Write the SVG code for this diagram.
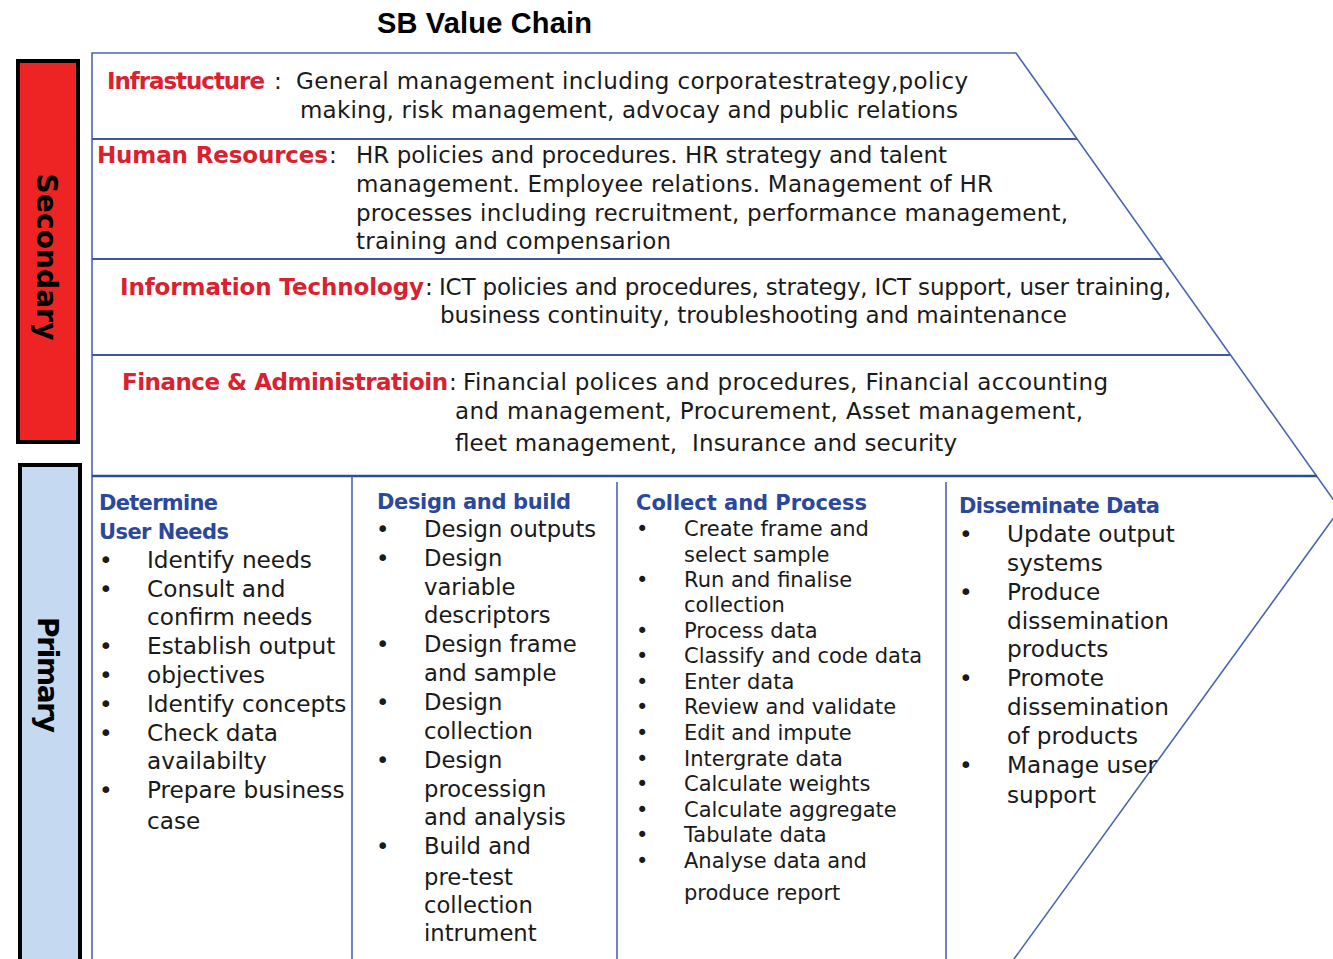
<svg xmlns="http://www.w3.org/2000/svg" width="1333" height="959" viewBox="0 0 1333 959">
<style>
.frame{fill:none;stroke:#4a66b0;stroke-width:1.6}
.sep{stroke:#3d57a3;stroke-width:1.8}
.sepb{stroke:#2f4a9c;stroke-width:2.6}
.title{font-family:"Liberation Sans",Arial,sans-serif;font-weight:bold;font-size:29px;fill:#000}
.side{font-family:"DejaVu Sans",sans-serif;font-weight:bold;font-size:28px;fill:#000}
.red{font-family:"DejaVu Sans",sans-serif;font-weight:bold;font-size:23px;fill:#d9212f}
.body{font-family:"DejaVu Sans",sans-serif;font-size:23px;fill:#1a1a1a}
.hdr{font-family:"DejaVu Sans",sans-serif;font-weight:bold;font-size:21px;fill:#2b489a}
.col{font-family:"DejaVu Sans",sans-serif;font-size:23.2px;fill:#1a1a1a}
.col2{font-family:"DejaVu Sans",sans-serif;font-size:22.7px;fill:#1a1a1a}
.col3{font-family:"DejaVu Sans",sans-serif;font-size:21px;fill:#1a1a1a}
</style>
<rect width="1333" height="959" fill="#fff"/>

<g id="title"><text class="title" x="377" y="33" textLength="215">SB Value Chain</text></g>

<g id="secondary-label">
<rect x="18" y="61" width="60" height="381" fill="#ee2424" stroke="#000" stroke-width="4"/>
<text class="side" transform="translate(47,257) rotate(90)" x="0" y="10" text-anchor="middle" textLength="167">Secondary</text>
</g>
<g id="primary-label">
<rect x="20" y="465" width="60" height="500" fill="#c5d9f0" stroke="#000" stroke-width="4"/>
<text class="side" transform="translate(48,675) rotate(90)" x="0" y="10" text-anchor="middle" textLength="116">Primary</text>
</g>

<g id="connectors">
<path class="frame" d="M92,959 V53 H1016 L1340,509 L1014,959"/>
<line class="sep" x1="92" y1="139" x2="1077" y2="139"/>
<line class="sep" x1="92" y1="259" x2="1162" y2="259"/>
<line class="sep" x1="92" y1="355" x2="1230" y2="355"/>
<line class="sepb" x1="92" y1="476" x2="1317" y2="476"/>
<line class="frame" x1="352" y1="476" x2="352" y2="959"/>
<line class="frame" x1="617" y1="482" x2="617" y2="959"/>
<line class="frame" x1="946" y1="482" x2="946" y2="959"/>
</g>

<g id="infrastructure">
<text class="red" x="107" y="89" textLength="158">Infrastucture</text>
<text class="body" x="274" y="89">:</text>
<text class="body" x="296" y="89" textLength="672">General management including corporatestrategy,policy</text>
<text class="body" x="300" y="118" textLength="658">making, risk management, advocay and public relations</text>
</g>

<g id="human-resources">
<text class="red" x="97" y="163" textLength="231">Human Resources</text>
<text class="body" x="329" y="163">:</text>
<text class="body" x="356" y="163" textLength="591">HR policies and procedures. HR strategy and talent</text>
<text class="body" x="356" y="192" textLength="637">management. Employee relations. Management of HR</text>
<text class="body" x="356" y="221" textLength="712">processes including recruitment, performance management,</text>
<text class="body" x="356" y="249" textLength="315">training and compensarion</text>
</g>

<g id="information-technology">
<text class="red" x="120" y="295" textLength="304">Information Technology</text>
<text class="body" x="425" y="295">:</text>
<text class="body" x="439" y="295" textLength="732">ICT policies and procedures, strategy, ICT support, user training,</text>
<text class="body" x="440" y="323" textLength="627">business continuity, troubleshooting and maintenance</text>
</g>

<g id="finance-administration">
<text class="red" x="122" y="390" textLength="326">Finance &amp; Administratioin</text>
<text class="body" x="449" y="390">:</text>
<text class="body" x="463" y="390" textLength="645">Financial polices and procedures, Financial accounting</text>
<text class="body" x="455" y="419" textLength="628">and management, Procurement, Asset management,</text>
<text class="body" x="455" y="451" textLength="502" style="white-space:pre">fleet management,  Insurance and security</text>
</g>

<g id="determine-user-needs">
<text class="hdr" x="99" y="510" textLength="119">Determine</text>
<text class="hdr" x="99" y="539" textLength="130">User Needs</text>
<g class="col">
<text x="99" y="568">•</text><text x="147" y="568">Identify needs</text>
<text x="99" y="597">•</text><text x="147" y="597">Consult and</text>
<text x="147" y="625">confirm needs</text>
<text x="99" y="654">•</text><text x="147" y="654">Establish output</text>
<text x="99" y="683">•</text><text x="147" y="683">objectives</text>
<text x="99" y="712">•</text><text x="147" y="712">Identify concepts</text>
<text x="99" y="741">•</text><text x="147" y="741">Check data</text>
<text x="147" y="769">availabilty</text>
<text x="99" y="798">•</text><text x="147" y="798">Prepare business</text>
<text x="147" y="829">case</text>
</g>
</g>

<g id="design-and-build">
<text class="hdr" x="377" y="509" textLength="194">Design and build</text>
<g class="col2">
<text x="376" y="537">•</text><text x="424" y="537">Design outputs</text>
<text x="376" y="566">•</text><text x="424" y="566">Design</text>
<text x="424" y="595">variable</text>
<text x="424" y="623">descriptors</text>
<text x="376" y="652">•</text><text x="424" y="652">Design frame</text>
<text x="424" y="681">and sample</text>
<text x="376" y="710">•</text><text x="424" y="710">Design</text>
<text x="424" y="739">collection</text>
<text x="376" y="768">•</text><text x="424" y="768">Design</text>
<text x="424" y="797">processign</text>
<text x="424" y="825">and analysis</text>
<text x="376" y="854">•</text><text x="424" y="854">Build and</text>
<text x="424" y="885">pre-test</text>
<text x="424" y="913">collection</text>
<text x="424" y="941">intrument</text>
</g>
</g>

<g id="collect-and-process">
<text class="hdr" x="636" y="510" textLength="231">Collect and Process</text>
<g class="col3">
<text x="636" y="536">•</text><text x="684" y="536">Create frame and</text>
<text x="684" y="562">select sample</text>
<text x="636" y="587">•</text><text x="684" y="587">Run and finalise</text>
<text x="684" y="612">collection</text>
<text x="636" y="638">•</text><text x="684" y="638">Process data</text>
<text x="636" y="663">•</text><text x="684" y="663">Classify and code data</text>
<text x="636" y="689">•</text><text x="684" y="689">Enter data</text>
<text x="636" y="714">•</text><text x="684" y="714">Review and validate</text>
<text x="636" y="740">•</text><text x="684" y="740">Edit and impute</text>
<text x="636" y="766">•</text><text x="684" y="766">Intergrate data</text>
<text x="636" y="791">•</text><text x="684" y="791">Calculate weights</text>
<text x="636" y="817">•</text><text x="684" y="817">Calculate aggregate</text>
<text x="636" y="842">•</text><text x="684" y="842">Tabulate data</text>
<text x="636" y="868">•</text><text x="684" y="868">Analyse data and</text>
<text x="684" y="900">produce report</text>
</g>
</g>

<g id="disseminate-data">
<text class="hdr" x="959" y="513" textLength="201">Disseminate Data</text>
<g class="col">
<text x="959" y="542">•</text><text x="1007" y="542">Update output</text>
<text x="1007" y="571">systems</text>
<text x="959" y="600">•</text><text x="1007" y="600">Produce</text>
<text x="1007" y="629">dissemination</text>
<text x="1007" y="657">products</text>
<text x="959" y="686">•</text><text x="1007" y="686">Promote</text>
<text x="1007" y="715">dissemination</text>
<text x="1007" y="744">of products</text>
<text x="959" y="773">•</text><text x="1007" y="773">Manage user</text>
<text x="1007" y="803">support</text>
</g>
</g>
</svg>
